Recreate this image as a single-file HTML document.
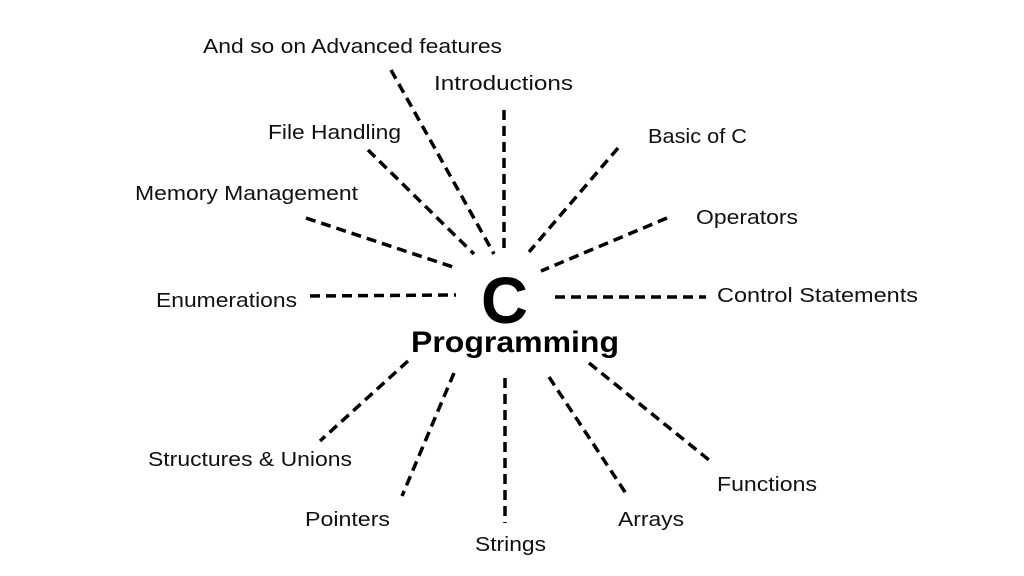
<!DOCTYPE html>
<html><head><meta charset="utf-8"><style>
body{margin:0;background:#fff;width:1024px;height:576px;overflow:hidden}
svg{display:block}
text{font-family:"Liberation Sans",sans-serif;fill:#111}
</style></head><body>
<svg width="1024" height="576" viewBox="0 0 1024 576">
<g stroke="#000" stroke-width="3.5" stroke-dasharray="10,6" fill="none">
<line x1="391" y1="70" x2="494" y2="254"/>
<line x1="504" y1="110" x2="504" y2="254"/>
<line x1="368" y1="150" x2="474" y2="254"/>
<line x1="306" y1="218" x2="453" y2="267"/>
<line x1="618" y1="148" x2="529" y2="252"/>
<line x1="667" y1="218" x2="541" y2="271"/>
<line x1="310" y1="296" x2="456" y2="295"/>
<line x1="555" y1="297" x2="706" y2="297"/>
<line x1="408" y1="361" x2="320" y2="441"/>
<line x1="454" y1="373" x2="402" y2="496"/>
<line x1="505" y1="378" x2="505" y2="523"/>
<line x1="549" y1="377" x2="627" y2="495"/>
<line x1="589" y1="363" x2="709" y2="460"/>
</g>
<g font-size="20" lengthAdjust="spacingAndGlyphs">
<text x="203" y="53" textLength="299" lengthAdjust="spacingAndGlyphs">And so on Advanced features</text>
<text x="434" y="90" textLength="139" lengthAdjust="spacingAndGlyphs">Introductions</text>
<text x="268" y="139" textLength="133" lengthAdjust="spacingAndGlyphs">File Handling</text>
<text x="648" y="143" textLength="99" lengthAdjust="spacingAndGlyphs">Basic of C</text>
<text x="135" y="200" textLength="223" lengthAdjust="spacingAndGlyphs">Memory Management</text>
<text x="696" y="224" textLength="102" lengthAdjust="spacingAndGlyphs">Operators</text>
<text x="156" y="307" textLength="141" lengthAdjust="spacingAndGlyphs">Enumerations</text>
<text x="717" y="302" textLength="201" lengthAdjust="spacingAndGlyphs">Control Statements</text>
<text x="148" y="466" textLength="204" lengthAdjust="spacingAndGlyphs">Structures &amp; Unions</text>
<text x="717" y="491" textLength="100" lengthAdjust="spacingAndGlyphs">Functions</text>
<text x="305" y="526" textLength="85" lengthAdjust="spacingAndGlyphs">Pointers</text>
<text x="618" y="526" textLength="66" lengthAdjust="spacingAndGlyphs">Arrays</text>
<text x="475" y="551" textLength="71" lengthAdjust="spacingAndGlyphs">Strings</text>
</g>
<text x="481" y="323" font-size="66" font-weight="bold" textLength="47" lengthAdjust="spacingAndGlyphs" style="fill:#000">C</text>
<text x="411" y="352" font-size="30" font-weight="bold" textLength="208" lengthAdjust="spacingAndGlyphs" style="fill:#000">Programming</text>
</svg>
</body></html>
